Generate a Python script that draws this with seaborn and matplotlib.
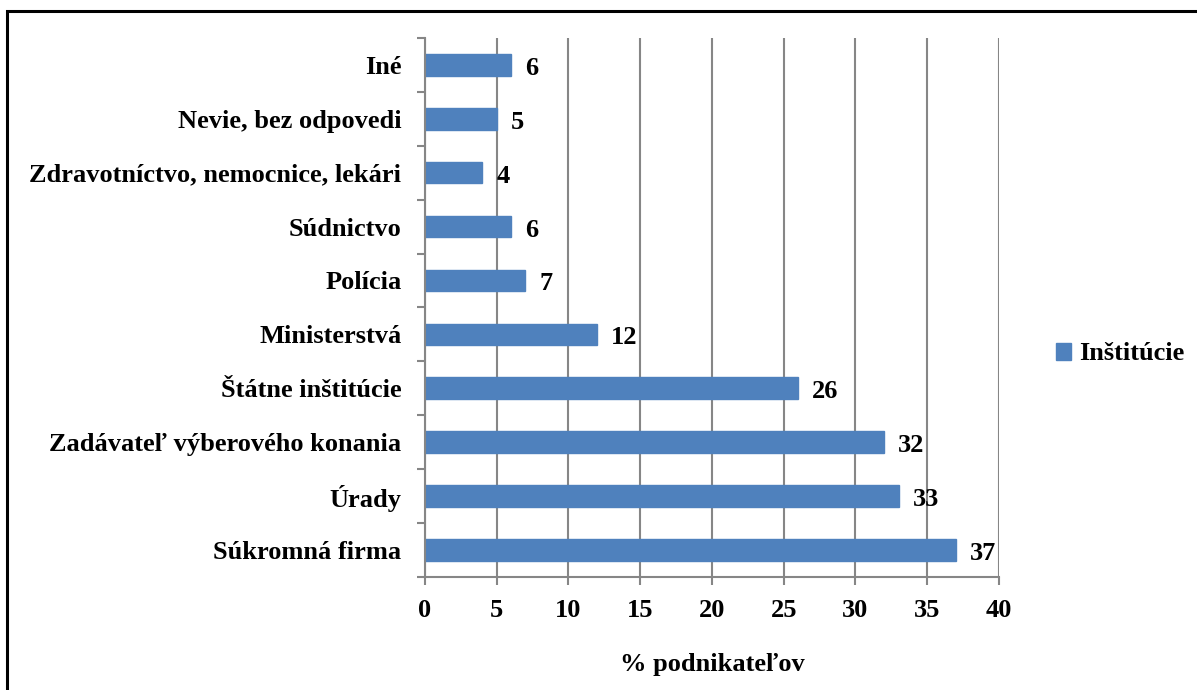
import numpy as np
import pandas as pd
import matplotlib
matplotlib.use("Agg")
import matplotlib.pyplot as plt
from matplotlib.patches import Rectangle
from matplotlib.ticker import FixedLocator
import seaborn as sns

categories = ["Iné", "Nevie, bez odpovedi", "Zdravotníctvo, nemocnice, lekári",
              "Súdnictvo", "Polícia", "Ministerstvá", "Štátne inštitúcie",
              "Zadávateľ výberového konania", "Úrady", "Súkromná firma"]
values = [6, 5, 4, 6, 7, 12, 26, 32, 33, 37]
series_name = "Inštitúcie"
x_ticks = [0, 5, 10, 15, 20, 25, 30, 35, 40]


def main():
    sns.set_style("white")
    plt.rcParams["font.family"] = ["Liberation Serif", "DejaVu Serif"]
    plt.rcParams["font.weight"] = "bold"
    plt.rcParams["text.color"] = "black"
    plt.rcParams["xtick.color"] = "black"
    plt.rcParams["ytick.color"] = "black"

    df = pd.DataFrame({"kat": categories, "val": values, "serie": series_name})

    fig = plt.figure(figsize=(11.97, 6.9), dpi=100)
    ax = fig.add_axes([0.355, 0.164, 0.4796, 0.781])
    blue = "#4F81BD"
    grid_c = "#868686"
    fs = 19

    sns.barplot(df, x="val", y="kat", hue="serie", palette=[blue], width=0.4,
                ax=ax, orient="h", saturation=1, edgecolor=blue)
    for c in ax.containers:
        labels = ax.bar_label(c, padding=10, fontsize=fs, fontweight="bold",
                              color="black")
        # nudge a little down so the digits sit on the bar's centre
        for t in labels:
            t.xyann = (10, -2.5)

    ax.set_xlim(0, 40)
    ax.set_ylim(len(categories) - 0.5, -0.5)
    ax.set_xticks(x_ticks)
    ax.xaxis.grid(True, color=grid_c, linewidth=1.5)
    ax.yaxis.grid(False)
    ax.set_axisbelow(True)

    for s in ["top", "right"]:
        ax.spines[s].set_visible(False)
    for s in ["left", "bottom"]:
        ax.spines[s].set_color(grid_c)
        ax.spines[s].set_linewidth(1.5)

    ax.tick_params(axis="x", direction="out", bottom=True, length=6, width=1.5,
                   color=grid_c, labelcolor="black", labelsize=fs, pad=10)
    ax.tick_params(axis="y", which="major", left=True, length=0,
                   labelsize=fs, labelcolor="black", pad=17)
    ax.yaxis.set_minor_locator(FixedLocator(np.arange(-0.5, len(categories), 1.0)))
    ax.tick_params(axis="y", which="minor", left=True, direction="out",
                   length=6, width=1.5, color=grid_c)
    for lab in ax.get_xticklabels() + ax.get_yticklabels():
        lab.set_fontweight("bold")

    ax.set_ylabel("")
    ax.set_xlabel("% podnikateľov", fontsize=fs, fontweight="bold",
                  color="black", labelpad=22)

    leg = ax.legend(loc="center left", bbox_to_anchor=(0.862, 0.487),
                    bbox_transform=fig.transFigure, frameon=False,
                    fontsize=fs, handlelength=0.6, handleheight=0.6,
                    handletextpad=0.3)
    for t in leg.get_texts():
        t.set_fontweight("bold")
        t.set_color("black")

    fig.add_artist(Rectangle((7 / 1197, -0.1), 1.2, 1.1 - 11 / 690,
                             transform=fig.transFigure, fill=False,
                             edgecolor="black", linewidth=2.2))

    fig.savefig("out.png", dpi=100)
    plt.close()


if __name__ == "__main__":
    main()
